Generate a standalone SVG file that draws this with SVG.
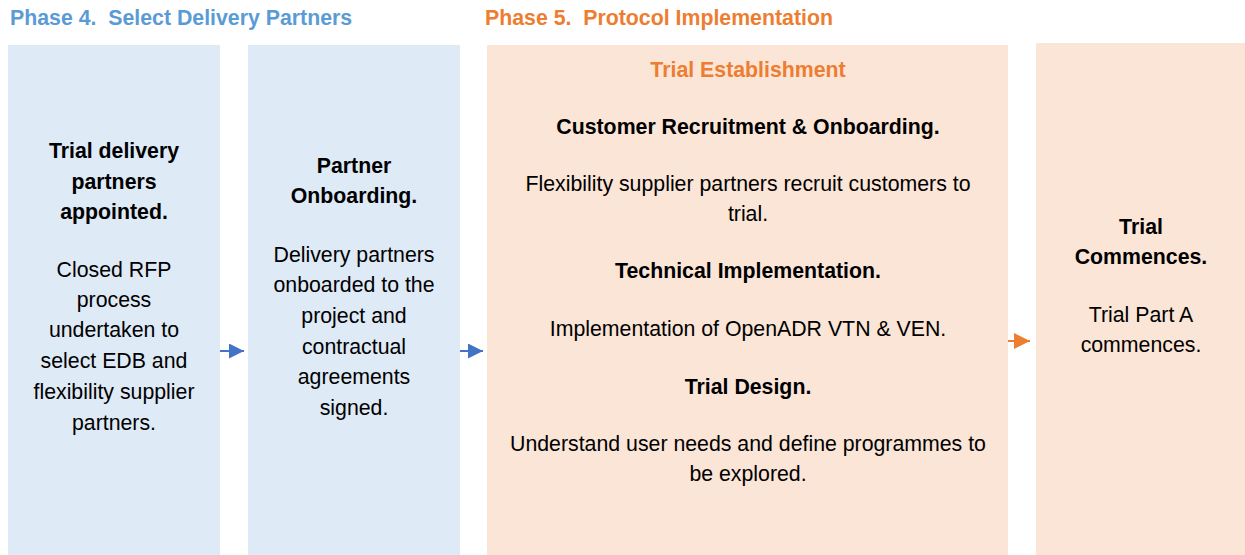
<svg xmlns="http://www.w3.org/2000/svg" width="1245" height="555" viewBox="0 0 1245 555">
<style>
text{font-family:"Liberation Sans",Arial,sans-serif;font-size:21.3px;fill:#000;text-anchor:middle}
.b{font-weight:bold}
.hb{fill:#5B9BD5;font-weight:bold;text-anchor:start}
.ho{fill:#ED7D31;font-weight:bold;text-anchor:start}
.to{fill:#ED7D31;font-weight:bold}
.blue{fill:#DEEAF6}
.orange{fill:#FBE5D6}
</style>
<defs>
<marker id="ab" markerWidth="15" markerHeight="15" refX="15" refY="7.5" orient="auto" markerUnits="userSpaceOnUse"><path d="M0,0 L15,7.5 L0,15 Z" fill="#4472C4"/></marker>
<marker id="ao" markerWidth="16" markerHeight="16" refX="16" refY="8" orient="auto" markerUnits="userSpaceOnUse"><path d="M0,0 L16,8 L0,16 Z" fill="#ED7D31"/></marker>
</defs>
<rect width="1245" height="555" fill="#fff"/>
<text class="hb" x="10" y="24.5" xml:space="preserve">Phase 4.  Select Delivery Partners</text>
<text class="ho" x="485" y="24.5" xml:space="preserve">Phase 5.  Protocol Implementation</text>
<g id="node1">
<rect class="blue" x="8" y="45" width="212" height="510"/>
<text class="b" x="114" y="157.5">Trial delivery</text>
<text class="b" x="114" y="188.5">partners</text>
<text class="b" x="114" y="218.5">appointed.</text>
<text x="114" y="276.5">Closed RFP</text>
<text x="114" y="306.5">process</text>
<text x="114" y="336.5">undertaken to</text>
<text x="114" y="367.5">select EDB and</text>
<text x="114" y="398.5">flexibility supplier</text>
<text x="114" y="429.5">partners.</text>
</g>
<g id="node2">
<rect class="blue" x="248" y="45" width="212" height="510"/>
<text class="b" x="354" y="172.5">Partner</text>
<text class="b" x="354" y="202.5">Onboarding.</text>
<text x="354" y="261.5">Delivery partners</text>
<text x="354" y="291.5">onboarded to the</text>
<text x="354" y="322.5">project and</text>
<text x="354" y="353.5">contractual</text>
<text x="354" y="383.5">agreements</text>
<text x="354" y="414.5">signed.</text>
</g>
<g id="node3">
<rect class="orange" x="487" y="45" width="521" height="510"/>
<text class="to" x="748" y="76.5">Trial Establishment</text>
<text class="b" x="748" y="133.5">Customer Recruitment &amp; Onboarding.</text>
<text x="748" y="190.5">Flexibility supplier partners recruit customers to</text>
<text x="748" y="220.5">trial.</text>
<text class="b" x="748" y="277.5">Technical Implementation.</text>
<text x="748" y="335.5">Implementation of OpenADR VTN &amp; VEN.</text>
<text class="b" x="748" y="393.5">Trial Design.</text>
<text x="748" y="450.5">Understand user needs and define programmes to</text>
<text x="748" y="480.5">be explored.</text>
</g>
<g id="node4">
<rect class="orange" x="1036" y="43" width="211" height="512"/>
<text class="b" x="1141" y="233.5">Trial</text>
<text class="b" x="1141" y="263.5">Commences.</text>
<text x="1141" y="321.5">Trial Part A</text>
<text x="1141" y="351.5">commences.</text>
</g>
<g id="connectors">
<line x1="220" y1="351" x2="244" y2="351" stroke="#4472C4" stroke-width="2" marker-end="url(#ab)"/>
<line x1="460" y1="351" x2="483" y2="351" stroke="#4472C4" stroke-width="2" marker-end="url(#ab)"/>
<line x1="1008" y1="341" x2="1030" y2="341" stroke="#ED7D31" stroke-width="2" marker-end="url(#ao)"/>
</g>
</svg>
